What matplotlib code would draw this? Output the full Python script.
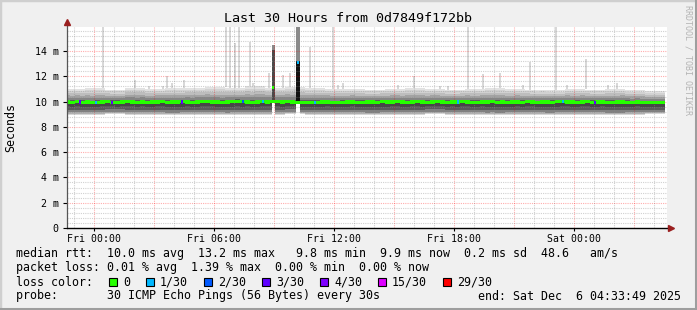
import matplotlib.pyplot as plt
import matplotlib.patches as mpatches
import numpy as np

# time in hours relative to Fri 00:00, 15 minute bins
t_start = -1.44
bin_h = 0.25

median = [
    9.97, 9.95, 9.98, 9.93, 9.96, 9.90, 9.92, 9.97, 9.98, 9.95,
    9.94, 9.96, 9.98, 9.97, 9.95, 9.97, 9.93, 9.96, 9.97, 9.98,
    9.95, 9.97, 9.96, 9.98, 9.97, 9.92, 9.96, 9.98, 9.99, 9.97,
    9.96, 9.93, 9.97, 9.99, 10.00, 9.98, 9.97, 9.92, 9.96, 9.98,
    9.97, 9.99, 9.98, 9.96, 9.98, 9.97, 9.95, 9.90, 9.93, 9.95,
    9.94, 9.96, 9.97, 9.90, 9.92, 9.95, 9.96, 9.97, 9.95, 9.93,
    9.96, 9.97, 9.95, 9.98, 9.96, 9.97, 9.99, 9.96, 9.94, 9.97,
    9.98, 9.96, 9.95, 9.97, 9.98, 9.96, 9.94, 9.97, 9.96, 9.98,
    9.97, 9.95, 9.93, 9.97, 9.96, 9.98, 9.95, 9.97, 9.94, 9.96,
    9.97, 9.95, 9.98, 9.97, 9.93, 9.96, 9.97, 9.95, 9.98, 10.00,
    9.97, 9.96, 9.94, 9.97, 9.98, 9.95, 9.96, 9.97, 9.93, 9.95,
    9.96, 9.97, 9.95, 9.93, 9.97, 9.92, 9.90, 9.91, 9.92, 9.93,
]

# hourly envelope of the smoke (ms)
smoke_hi = [11.00, 11.05, 10.95, 11.10, 11.00, 11.05, 11.10, 11.15, 11.10, 11.20,
            11.10, 11.15, 11.05, 11.00, 11.00, 10.95, 11.00, 11.05, 11.00, 10.95,
            11.00, 11.05, 11.00, 10.95, 10.90, 11.00, 10.95, 11.00, 10.90, 10.85]
smoke_lo = [8.95, 8.95, 9.00, 8.95, 8.95, 8.90, 8.95, 8.95, 8.90, 8.95,
            8.95, 9.00, 8.95, 8.95, 8.95, 8.90, 8.95, 8.95, 9.00, 8.95,
            8.95, 8.90, 8.95, 8.95, 8.90, 8.95, 8.95, 8.90, 8.95, 9.00]

# single tall ping outliers
spike_hours = [0.45, 1.75, 2.05, 2.75, 3.45, 3.65, 3.9, 4.5, 5.6, 6.15,
               6.6, 6.8, 7.05, 7.25, 7.8, 7.95, 8.75, 9.45, 9.8, 10.8,
               11.95, 12.2, 12.45, 15.2, 16.0, 17.3, 17.7, 18.7, 19.45, 20.3,
               21.45, 21.8, 23.1, 23.65, 24.6, 25.7, 26.15]
spike_peaks = [15.9, 11.1, 11.7, 11.2, 11.2, 12.0, 11.5, 11.7, 11.1, 11.1,
               15.9, 15.9, 14.6, 15.9, 14.7, 11.5, 12.3, 12.1, 12.3, 14.3,
               15.9, 11.3, 11.5, 11.3, 12.0, 11.2, 11.2, 15.9, 12.2, 12.3,
               11.3, 13.1, 15.9, 11.3, 13.4, 11.3, 11.5]

# short high latency episodes
event_hours = [8.95, 10.2]
event_median = [11.1, 13.1]
event_loss = [0, 1]
event_low = [9.9, 10.0]
event_dense = [14.1, 13.2]
event_max = [14.5, 15.9]

# median samples with packet loss
loss_hours = [-0.7, 0.1, 0.9, 4.4, 7.45, 8.45, 11.05, 18.2, 23.45, 25.05]
loss_counts = [3, 1, 3, 3, 2, 1, 1, 1, 1, 3]

loss_labels = ["0", "1/30", "2/30", "3/30", "4/30", "15/30", "29/30"]
loss_colors = ["#26ff00", "#00b8ff", "#0059ff", "#5e00ff", "#7e00ff", "#dd00ff", "#ff0000"]
loss_steps = [0, 1, 2, 3, 4, 15, 29]


def loss_color(n):
    for step, col in zip(loss_steps[::-1], loss_colors[::-1]):
        if n >= step:
            return col
    return loss_colors[0]


W, H = 697, 310
mono = "DejaVu Sans Mono"
fig = plt.figure(figsize=(W / 100, H / 100), dpi=100, facecolor="#f0f0f0")

# 3d frame
fig.patches.append(mpatches.Rectangle((0, 0), 1, 1, transform=fig.transFigure,
                                      fill=False, edgecolor="#cfcfcf", lw=2.5))
fig.add_artist(plt.Line2D([0, 1], [1.5 / H, 1.5 / H], color="#9e9e9e", lw=2.2))
fig.add_artist(plt.Line2D([1 - 1.5 / W, 1 - 1.5 / W], [0, 1], color="#9e9e9e", lw=2.2))

ax = fig.add_axes([67 / W, 82 / H, 600 / W, 201 / H])
ax.set_facecolor("white")
x0, x1 = -1.35, 28.65
ax.set_xlim(x0, x1)
ax.set_ylim(0, 15.9)

med = np.array(median)
n = len(med)
centers = t_start + bin_h * (np.arange(n) + 0.5)
hi = np.repeat(smoke_hi, 4)[:n]
lo = np.repeat(smoke_lo, 4)[:n]

# smoke, upper half
up_frac = [1.0, 0.85, 0.68, 0.5, 0.32, 0.15]
up_col = ["#e2e2e2", "#d2d2d2", "#bdbdbd", "#a3a3a3", "#858585", "#5e5e5e"]
for f, c in zip(up_frac, up_col):
    ax.bar(centers, f * (hi - med), bottom=med, width=bin_h, color=c, lw=0, zorder=2)
# smoke, lower half
dn_frac = [1.0, 0.9, 0.78, 0.6, 0.35]
dn_col = ["#d6d6d6", "#b0b0b0", "#808080", "#5a5a5a", "#474747"]
for f, c in zip(dn_frac, dn_col):
    ax.bar(centers, f * (med - lo), bottom=med - f * (med - lo), width=bin_h,
           color=c, lw=0, zorder=2)

# outliers
sh = np.array(spike_hours)
base = np.interp(sh, centers, hi)
ax.bar(sh, np.array(spike_peaks) - base, bottom=base, width=0.1,
       color="#d8d8d8", lw=0, zorder=1.9)

# high latency episodes
for h, low, dense, top, dark, w in zip(event_hours, event_low, event_dense, event_max,
                                       ["#4a4a4a", "#111111"], [0.15, 0.2]):
    lo_env = np.interp(h, centers, lo)
    ax.bar(h, low - lo_env, bottom=lo_env, width=w, color="white", lw=0, zorder=4.2)
    ax.bar(h, top - dense, bottom=dense, width=w, color="#8a8a8a", lw=0, zorder=4.2)
    ax.bar(h, dense - low, bottom=low, width=w, color=dark, lw=0, zorder=4.2)

# median band, drawn above the grid
ax.bar(centers, 0.26, bottom=med - 0.13, width=bin_h * 1.02, color=loss_colors[0],
       lw=0, zorder=6.1)
for h, c in zip(loss_hours, loss_counts):
    m = np.interp(h, centers, med)
    ax.bar(h, 0.26, bottom=m - 0.13, width=0.1, color=loss_color(c), lw=0, zorder=6.2)
for h, m, ls in zip(event_hours, event_median, event_loss):
    ax.bar(h, 0.26, bottom=m - 0.13, width=0.1, color=loss_color(ls), lw=0, zorder=6.2)

# grid on top of the smoke like rrdtool
for hx in np.arange(-1, 29, 1):
    major = hx % 3 == 0
    ax.axvline(hx, color=(1, 0, 0, 0.32) if major else (0.55, 0.55, 0.55, 0.4),
               lw=0.8, ls=(0, (1, 1)), zorder=5)
for yv in np.arange(0.4, 15.9, 0.4):
    major = abs(yv / 2 - round(yv / 2)) < 1e-6
    ax.axhline(yv, color=(1, 0, 0, 0.32) if major else (0.55, 0.55, 0.55, 0.4),
               lw=0.8, ls=(0, (1, 1)), zorder=5)

for s in ["top", "right", "left", "bottom"]:
    ax.spines[s].set_visible(False)
ax.plot([x0, x0], [0, 16.3], color="#555555", lw=0.9, clip_on=False, zorder=7)
ax.plot([x0, 28.75], [0, 0], color="black", lw=1.0, clip_on=False, zorder=7)
ax.plot([x0], [16.3], marker="^", color="#9a1f1f", ms=4, clip_on=False, zorder=8)
ax.plot([28.85], [0], marker=">", color="#9a1f1f", ms=4, clip_on=False, zorder=8)

xticks = [0, 6, 12, 18, 24]
xlabels = ["Fri 00:00", "Fri 06:00", "Fri 12:00", "Fri 18:00", "Sat 00:00"]
ax.set_xticks(xticks)
ax.set_xticklabels(xlabels, fontfamily=mono, fontsize=7.1)
yticks = [0, 2, 4, 6, 8, 10, 12, 14]
ylabels = ["0", "2 m", "4 m", "6 m", "8 m", "10 m", "12 m", "14 m"]
ax.set_yticks(yticks)
ax.set_yticklabels(ylabels, fontfamily=mono, fontsize=7.2)
ax.tick_params(axis="x", length=2, width=0.8, pad=2)
ax.tick_params(axis="y", length=3, width=0.8, pad=3)

fig.text(348 / W, 1 - 19 / H, "Last 30 Hours from 0d7849f172bb", ha="center", va="center",
         fontfamily=mono, fontsize=9.6)
fig.text(11 / W, 1 - 127 / H, "Seconds", rotation=90, ha="center", va="center",
         fontfamily=mono, fontsize=8.4)
fig.text(688 / W, 1 - 60 / H, "RRDTOOL / TOBI OETIKER", rotation=-90, ha="center",
         va="center", fontfamily=mono, fontsize=6.0, color="#b4b4b4")

fs = 8.4
rows = [
    ("median rtt:  10.0 ms avg  13.2 ms max   9.8 ms min  9.9 ms now  0.2 ms sd  48.6   am/s", 254),
    ("packet loss: 0.01 % avg  1.39 % max  0.00 % min  0.00 % now", 268),
    ("loss color:", 282),
    ("probe:       30 ICMP Echo Pings (56 Bytes) every 30s", 296),
]
for txt, y in rows:
    fig.text(16 / W, 1 - y / H, txt, ha="left", va="center", fontfamily=mono, fontsize=fs)
fig.text(681 / W, 1 - 296 / H, "end: Sat Dec  6 04:33:49 2025", ha="right", va="center",
         fontfamily=mono, fontsize=fs)

xp = 109
for lab, col in zip(loss_labels, loss_colors):
    fig.patches.append(mpatches.Rectangle((xp / W, 1 - 286 / H), 8 / W, 8 / H,
                                          transform=fig.transFigure, facecolor=col,
                                          edgecolor="black", lw=0.8))
    fig.text((xp + 14) / W, 1 - 282 / H, lab, ha="left", va="center",
             fontfamily=mono, fontsize=fs)
    xp += 14 + 7 * len(lab) + 16

fig.savefig("out.png", dpi=100, facecolor=fig.get_facecolor())
